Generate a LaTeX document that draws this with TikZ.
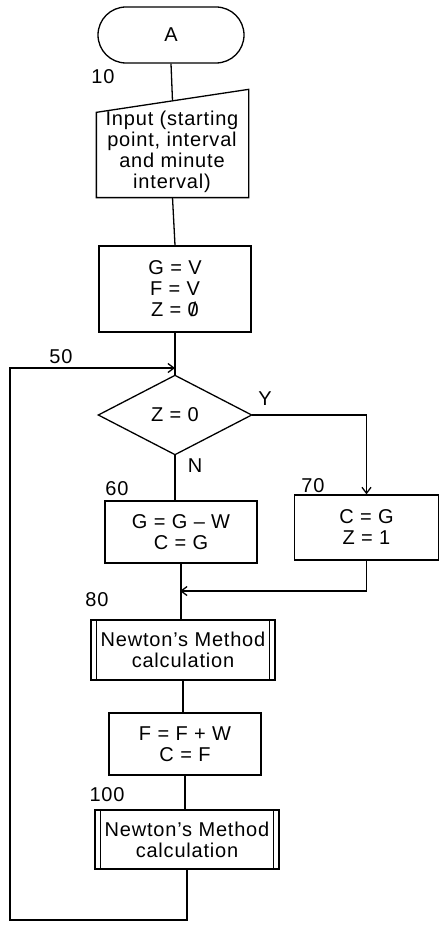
\documentclass[tikz,border=0pt]{standalone}
\usepackage{fontspec}
\setmainfont{Liberation Sans}[LetterSpace=4]
\usetikzlibrary{arrows.meta,calc}
\newcommand\slzero{\ooalign{0\cr\hidewidth/\hidewidth\cr}}
\begin{document}
\begin{tikzpicture}[x=1pt,y=-1pt, line width=1.3pt,
  every node/.style={font=\fontsize{20}{21}\selectfont},
  box/.style={draw, align=center, inner sep=0pt},
  plain/.style={align=center, inner sep=0pt},
  lbl/.style={inner sep=0pt},
  arr/.style={-{Straight Barb[length=6pt,width=9pt]}}]
\fill[white] (0,0) rectangle (440,925);
\useasboundingbox (0,0) rectangle (440,925);
% terminal
\node[box, rounded corners=28pt, minimum width=146pt, minimum height=56pt] (A) at (171,35) {A};
% manual input
\node[plain, minimum width=151pt, minimum height=84pt] (in) at (172.5,155) {};
\draw (in.south west) -- (in.south east) -- ([yshift=23pt]in.north east) -- (in.north west) -- cycle;
\node[plain] (intxt) at (172,152) {Input (starting\\point, interval\\and minute\\interval)};
\coordinate (intop) at ($(in.north west)!0.5!([yshift=23pt]in.north east)$);
\draw (A.south) -- (intop);
% init box
\node[box, minimum width=152pt, minimum height=86pt] (b1) at (175,289) {G = V\\F = V\\Z = \slzero};
\draw (in.south) -- (b1.north);
% decision
\coordinate (j50) at (175,368);
\node[plain, minimum width=152pt, minimum height=78pt] (d) at (175,415) {Z = 0};
\draw (d.north) -- (d.east) -- (d.south) -- (d.west) -- cycle;
\draw (b1.south) -- (d.north);
% branches
\node[box, minimum width=152pt, minimum height=62pt] (b60) at (181,532) {G = G -- W\\C = G};
\node[box, minimum width=144pt, minimum height=65pt] (b70) at (366.5,527.5) {C = G\\Z = 1};
\draw[arr] (d.east) -| (b70.north);
\draw (d.south) -- (d.south |- b60.north);
% newton 1
\node[box, minimum width=184pt, minimum height=60pt] (n1) at (183,650) {Newton’s Method\\calculation};
\draw ([xshift=6pt]n1.north west) -- ([xshift=6pt]n1.south west);
\draw ([xshift=-6pt]n1.north east) -- ([xshift=-6pt]n1.south east);
\coordinate (j80) at (180,591);
\draw (b60.south) -- (b60.south |- n1.north);
\draw[arr] (b70.south) |- (j80);
% box 90
\node[box, minimum width=152pt, minimum height=62pt] (b90) at (185,744) {F = F + W\\C = F};
\draw (n1.south) -- (n1.south |- b90.north);
% newton 2
\node[box, minimum width=184pt, minimum height=59pt] (n2) at (187,839.5) {Newton’s Method\\calculation};
\draw ([xshift=6pt]n2.north west) -- ([xshift=6pt]n2.south west);
\draw ([xshift=-6pt]n2.north east) -- ([xshift=-6pt]n2.south east);
\draw (b90.south) -- (b90.south |- n2.north);
% loop back
\coordinate (bl) at (10,920);
\draw[arr] (n2.south) |- (bl) |- (j50);
% labels
\node[lbl] (l10) at (103,77) {10};
\node[lbl] (l50) at (61,357) {50};
\node[lbl] (lY) at (265,399) {Y};
\node[lbl] (lN) at (195,466) {N};
\node[lbl] (l60) at (117,489) {60};
\node[lbl] (l70) at (313,486) {70};
\node[lbl] (l80) at (97,600) {80};
\node[lbl] (l100) at (107,795) {100};
\end{tikzpicture}
\end{document}
